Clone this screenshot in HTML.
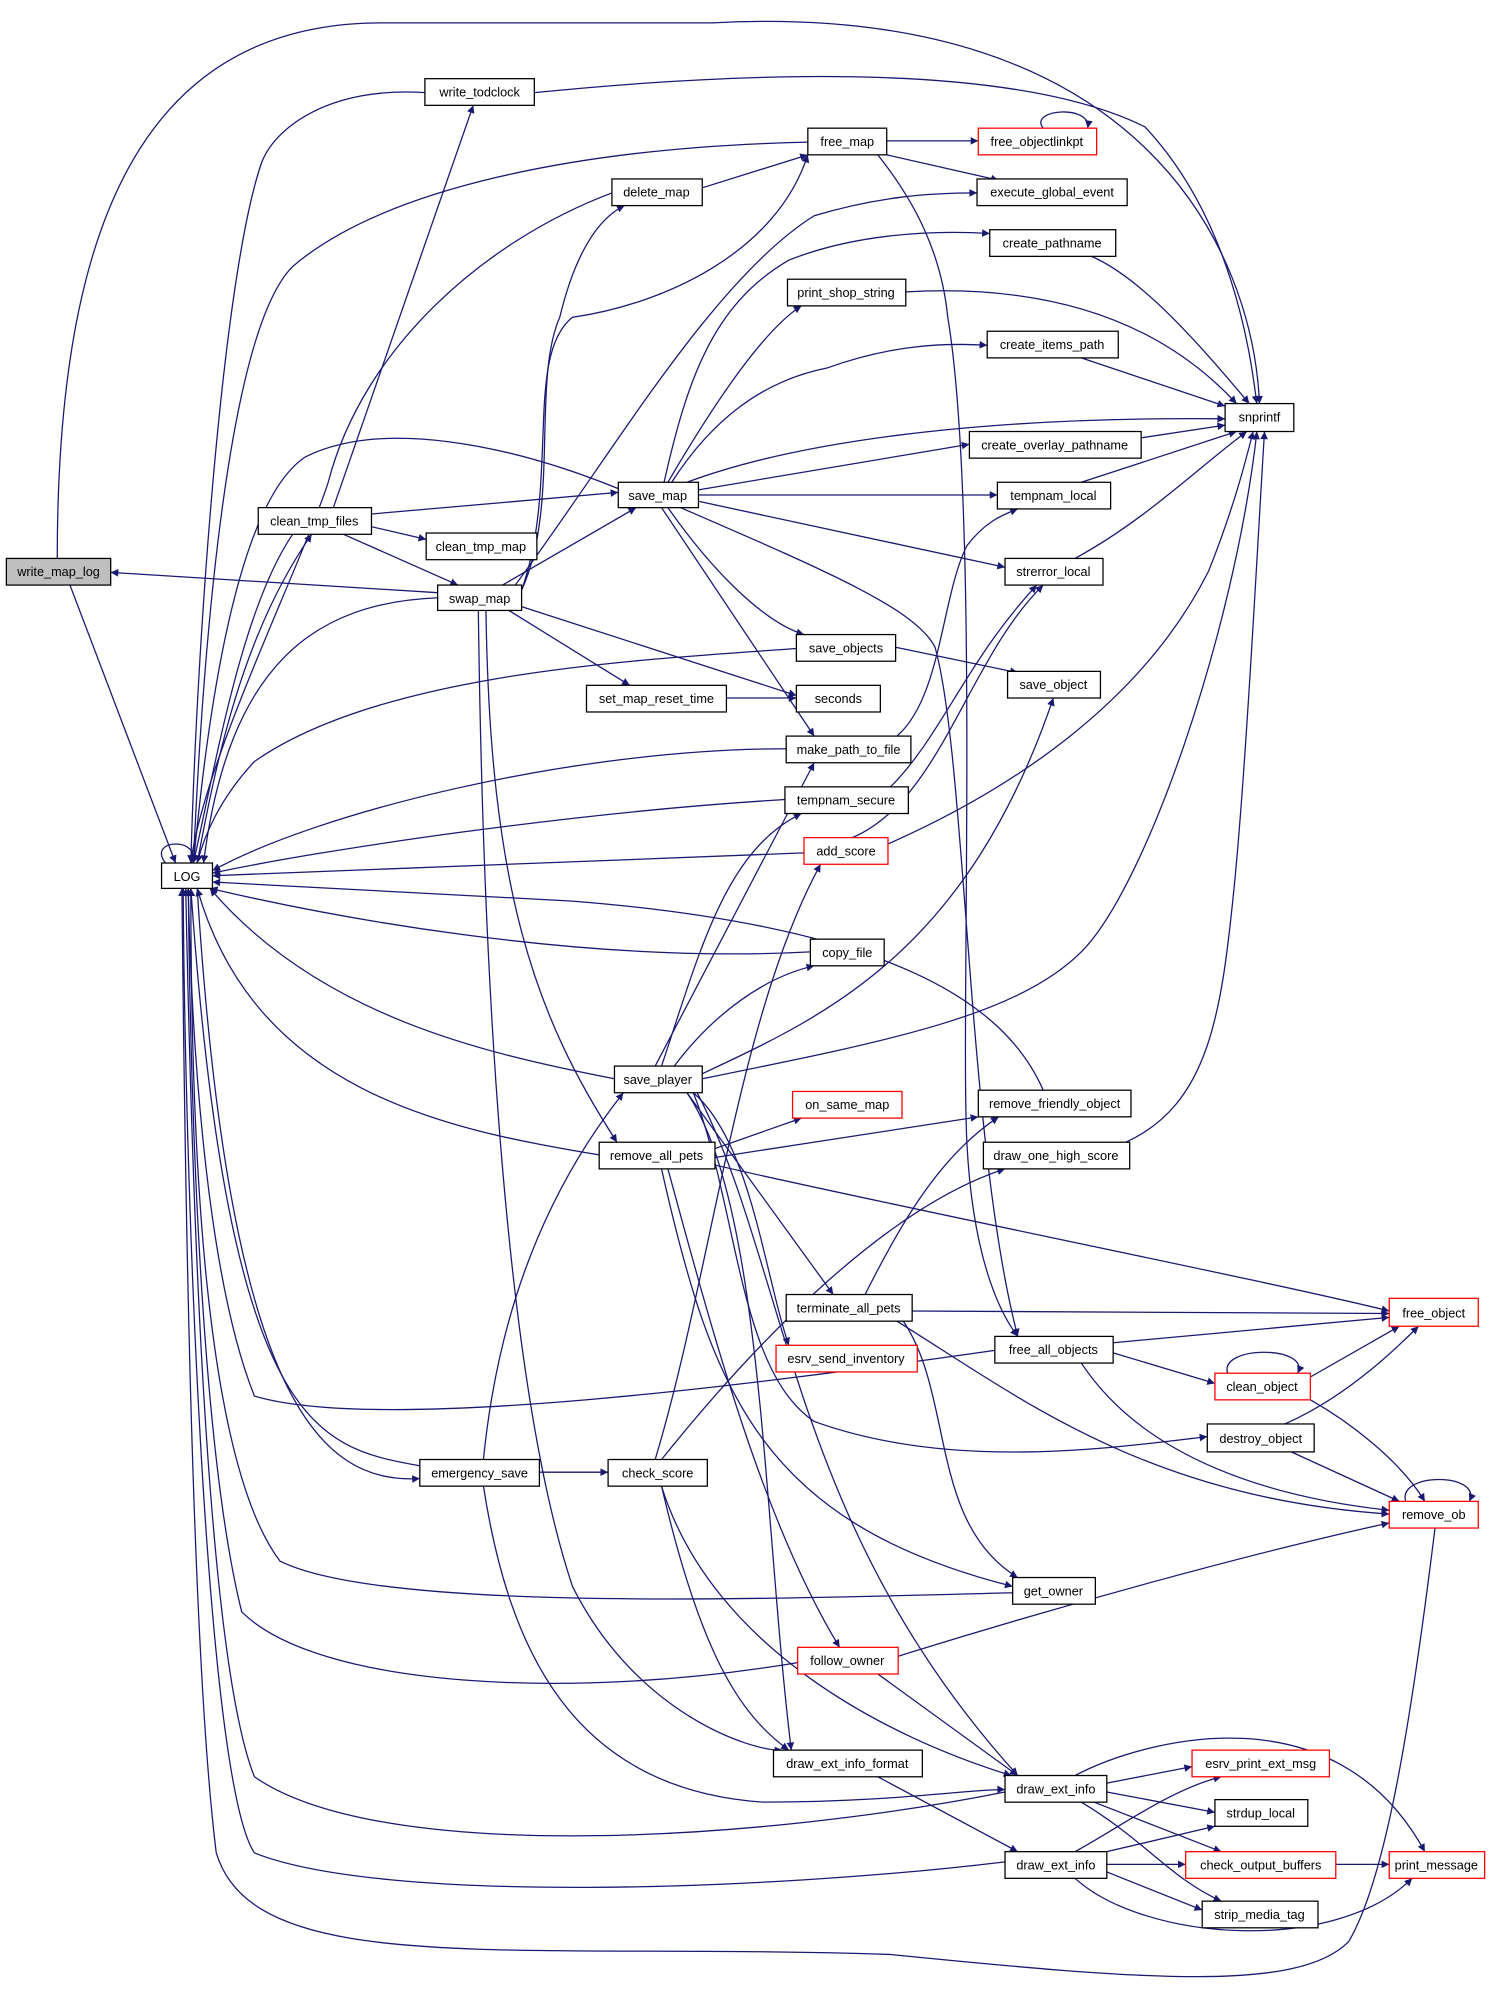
<!DOCTYPE html>
<html><head><meta charset="utf-8"><style>
html,body{margin:0;padding:0;background:#fff;}
svg{display:block;}
text{font-family:"Liberation Sans",sans-serif;font-size:10px;fill:#000;text-anchor:middle;}
.e{fill:none;stroke:#191970;stroke-width:1;}
.n{fill:#fff;stroke:#000;stroke-width:1;}
.r{fill:#fff;stroke:#ff0000;stroke-width:1;}
</style></head><body>
<svg width="1491" height="1990" viewBox="0 0 1172 1568" preserveAspectRatio="none" xmlns="http://www.w3.org/2000/svg">
<defs><marker id="a" viewBox="0 0 10 10" refX="10" refY="5" markerWidth="7" markerHeight="6" orient="auto" markerUnits="userSpaceOnUse"><path d="M0,0 L10,5 L0,10 z" fill="#191970"/></marker></defs>
<g class="e" marker-end="url(#a)">
<path d="M45,440 C45,200 100,18 300,18 L560,18 C900,0 985,200 990,318"/>
<path d="M55,461 L138,680"/>
<path d="M420,73 C600,55 800,50 900,100 C975,180 985,300 988,318"/>
<path d="M334,73 C260,68 215,100 205,130 C175,220 155,500 150,680"/>
<path d="M262,400 L372,83"/>
<path d="M697,111 L769,111"/>
<path d="M820,101 C808,86 858,82 855,101"/>
<path d="M697,122 L785,142"/>
<path d="M635,112 C450,116 300,150 230,210 C180,260 160,500 152,680"/>
<path d="M552,148 L635,122"/>
<path d="M481,152 C380,190 285,275 258,380 C235,450 160,600 150,680"/>
<path d="M410,465 C440,400 418,300 440,250 C452,200 470,172 491,162"/>
<path d="M410,465 C440,380 412,280 450,250 C520,240 610,200 635,122"/>
<path d="M405,461 C480,360 560,220 640,170 C690,155 730,152 768,152"/>
<path d="M522,380 C540,300 560,240 620,205 C670,185 730,181 778,184"/>
<path d="M525,380 C560,320 600,260 630,241"/>
<path d="M528,380 C560,330 600,300 650,290 C700,272 740,270 776,272"/>
<path d="M540,380 C620,350 760,328 963,330"/>
<path d="M549,386 L762,350"/>
<path d="M549,390 L784,390"/>
<path d="M549,395 L790,447"/>
<path d="M525,400 C560,450 600,490 632,500"/>
<path d="M520,400 L640,580"/>
<path d="M535,400 C650,450 720,480 735,510 C760,600 760,900 800,1053"/>
<path d="M486,385 C400,350 300,330 240,360 C180,400 160,600 152,680"/>
<path d="M690,122 C720,160 740,200 745,250 C770,400 755,800 760,900 C765,1000 790,1040 800,1053"/>
<path d="M858,202 C900,220 950,280 982,318"/>
<path d="M712,230 C800,225 900,240 972,318"/>
<path d="M850,282 L963,320"/>
<path d="M897,345 L963,335"/>
<path d="M850,380 L972,340"/>
<path d="M845,440 C900,410 940,370 980,340"/>
<path d="M698,665 C800,620 900,550 950,450 C970,400 980,360 985,340"/>
<path d="M552,850 C700,820 800,800 850,750 C900,700 970,500 988,340"/>
<path d="M885,900 C950,870 960,800 970,700 C980,600 990,400 994,340"/>
<path d="M292,405 L486,388"/>
<path d="M292,415 L335,425"/>
<path d="M270,421 L360,461"/>
<path d="M155,680 C170,600 190,500 245,421"/>
<path d="M230,421 C190,480 170,600 152,680"/>
<path d="M395,461 L500,400"/>
<path d="M344,467 L87,451"/>
<path d="M344,471 C250,475 180,520 160,680"/>
<path d="M400,481 L495,540"/>
<path d="M410,478 L626,548"/>
<path d="M376,481 C380,800 400,1100 450,1250 C500,1350 590,1380 615,1379"/>
<path d="M382,481 C385,700 420,800 485,900"/>
<path d="M571,550 L626,550"/>
<path d="M704,510 L800,530"/>
<path d="M626,511 C500,520 300,530 200,600 C172,630 160,660 155,680"/>
<path d="M705,580 C740,550 740,470 760,430 C775,410 790,405 800,401"/>
<path d="M618,590 C450,590 250,640 167,686"/>
<path d="M700,620 C740,580 760,520 815,461"/>
<path d="M617,630 C450,640 250,670 167,688"/>
<path d="M670,660 C740,630 760,520 820,461"/>
<path d="M632,672 L167,690"/>
<path d="M637,750 C450,760 250,720 165,700"/>
<path d="M530,840 C560,800 600,770 640,761"/>
<path d="M515,840 L640,601"/>
<path d="M520,840 C550,750 570,670 630,641"/>
<path d="M552,846 C650,800 760,750 828,550"/>
<path d="M483,850 C380,830 250,800 165,700"/>
<path d="M540,861 L655,1020"/>
<path d="M545,861 C590,900 600,1000 620,1060"/>
<path d="M540,861 C600,950 600,1200 622,1379"/>
<path d="M548,861 C620,1000 620,1200 800,1399"/>
<path d="M545,861 C580,950 580,1080 640,1120 C750,1160 880,1140 949,1132"/>
<path d="M562,905 L630,881"/>
<path d="M562,912 L769,880"/>
<path d="M562,918 C700,950 1000,1010 1092,1033"/>
<path d="M471,910 C350,890 200,860 155,700"/>
<path d="M520,921 C560,1100 600,1200 796,1250"/>
<path d="M525,921 C560,1050 600,1200 660,1298"/>
<path d="M820,859 C790,790 700,730 450,710 L167,695"/>
<path d="M680,1020 C710,960 740,910 785,880"/>
<path d="M717,1033 L1092,1035"/>
<path d="M710,1041 C750,1100 730,1200 800,1243"/>
<path d="M705,1041 C800,1100 900,1180 1092,1193"/>
<path d="M875,1058 L1092,1038"/>
<path d="M875,1066 L955,1090"/>
<path d="M850,1074 C900,1150 1000,1180 1092,1190"/>
<path d="M782,1064 C600,1090 300,1130 200,1100 C160,1000 150,800 148,700"/>
<path d="M965,1082 C958,1060 1030,1060 1020,1082"/>
<path d="M1030,1085 L1100,1045"/>
<path d="M1030,1103 C1060,1120 1100,1150 1120,1183"/>
<path d="M1010,1122 C1060,1100 1100,1060 1115,1045"/>
<path d="M1015,1144 L1100,1183"/>
<path d="M1105,1183 C1098,1160 1165,1160 1155,1183"/>
<path d="M424,1160 L478,1160"/>
<path d="M330,1155 C250,1140 180,1130 150,700"/>
<path d="M155,700 C180,1100 250,1170 330,1165"/>
<path d="M380,1150 C390,1050 420,950 490,861"/>
<path d="M380,1171 C400,1300 450,1410 600,1420 C700,1420 760,1410 790,1410"/>
<path d="M515,1150 C560,1000 580,800 645,681"/>
<path d="M520,1150 C600,1050 700,950 790,921"/>
<path d="M520,1171 C550,1300 580,1350 620,1379"/>
<path d="M520,1171 C560,1300 700,1370 795,1399"/>
<path d="M796,1255 C600,1260 300,1270 220,1230 C160,1150 150,900 150,700"/>
<path d="M706,1305 C850,1260 1000,1220 1092,1200"/>
<path d="M690,1319 L800,1399"/>
<path d="M627,1310 C450,1340 250,1330 190,1270 C160,1150 150,900 148,700"/>
<path d="M690,1400 L800,1459"/>
<path d="M870,1405 L937,1392"/>
<path d="M870,1412 L955,1428"/>
<path d="M860,1420 L960,1459"/>
<path d="M850,1420 C900,1450 920,1480 960,1498"/>
<path d="M845,1399 C900,1370 1050,1330 1120,1459"/>
<path d="M790,1412 C600,1450 300,1470 200,1400 C160,1300 150,900 146,700"/>
<path d="M845,1459 C880,1440 920,1410 960,1400"/>
<path d="M870,1469 L932,1469"/>
<path d="M870,1475 L945,1505"/>
<path d="M870,1459 L955,1439"/>
<path d="M845,1480 C900,1530 1050,1540 1110,1480"/>
<path d="M790,1467 C600,1490 300,1500 200,1460 C160,1400 145,900 144,700"/>
<path d="M1050,1469 L1092,1469"/>
<path d="M1128,1204 C1110,1350 1090,1480 1060,1530 C1020,1570 900,1560 700,1540 C400,1530 200,1560 170,1460 C150,1300 145,900 143,700"/>
<path d="M130,680 C115,660 160,660 150,680"/>
</g>
<g>
<rect x="5" y="440" width="82" height="21" fill="#bfbfbf" stroke="#000"/><text x="46" y="454">write_map_log</text>
<rect class="n" x="127" y="680" width="40" height="20"/><text x="147" y="694">LOG</text>
<rect class="n" x="334" y="62" width="86" height="21"/><text x="377" y="76">write_todclock</text>
<rect class="n" x="635" y="101" width="62" height="21"/><text x="666" y="115">free_map</text>
<rect class="r" x="769" y="101" width="93" height="21"/><text x="815" y="115">free_objectlinkpt</text>
<rect class="n" x="768" y="141" width="118" height="21"/><text x="827" y="155">execute_global_event</text>
<rect class="n" x="481" y="141" width="71" height="21"/><text x="516" y="155">delete_map</text>
<rect class="n" x="778" y="181" width="99" height="21"/><text x="827" y="195">create_pathname</text>
<rect class="n" x="619" y="220" width="93" height="21"/><text x="665" y="234">print_shop_string</text>
<rect class="n" x="776" y="261" width="103" height="21"/><text x="827" y="275">create_items_path</text>
<rect class="n" x="963" y="318" width="54" height="22"/><text x="990" y="332">snprintf</text>
<rect class="n" x="762" y="340" width="135" height="21"/><text x="829" y="354">create_overlay_pathname</text>
<rect class="n" x="486" y="380" width="63" height="20"/><text x="517" y="394">save_map</text>
<rect class="n" x="784" y="380" width="89" height="21"/><text x="828" y="394">tempnam_local</text>
<rect class="n" x="203" y="400" width="89" height="21"/><text x="247" y="414">clean_tmp_files</text>
<rect class="n" x="335" y="420" width="87" height="21"/><text x="378" y="434">clean_tmp_map</text>
<rect class="n" x="790" y="440" width="77" height="21"/><text x="828" y="454">strerror_local</text>
<rect class="n" x="344" y="461" width="66" height="20"/><text x="377" y="475">swap_map</text>
<rect class="n" x="626" y="500" width="78" height="21"/><text x="665" y="514">save_objects</text>
<rect class="n" x="792" y="529" width="73" height="21"/><text x="828" y="543">save_object</text>
<rect class="n" x="461" y="540" width="110" height="21"/><text x="516" y="554">set_map_reset_time</text>
<rect class="n" x="626" y="540" width="66" height="21"/><text x="659" y="554">seconds</text>
<rect class="n" x="618" y="580" width="98" height="21"/><text x="667" y="594">make_path_to_file</text>
<rect class="n" x="617" y="620" width="97" height="21"/><text x="665" y="634">tempnam_secure</text>
<rect class="r" x="632" y="660" width="66" height="21"/><text x="665" y="674">add_score</text>
<rect class="n" x="637" y="740" width="58" height="21"/><text x="666" y="754">copy_file</text>
<rect class="n" x="483" y="840" width="69" height="21"/><text x="517" y="854">save_player</text>
<rect class="r" x="623" y="860" width="86" height="21"/><text x="666" y="874">on_same_map</text>
<rect class="n" x="769" y="859" width="120" height="21"/><text x="829" y="873">remove_friendly_object</text>
<rect class="n" x="471" y="900" width="91" height="21"/><text x="516" y="914">remove_all_pets</text>
<rect class="n" x="773" y="900" width="115" height="21"/><text x="830" y="914">draw_one_high_score</text>
<rect class="n" x="618" y="1020" width="99" height="21"/><text x="667" y="1034">terminate_all_pets</text>
<rect class="r" x="1092" y="1023" width="70" height="22"/><text x="1127" y="1038">free_object</text>
<rect class="r" x="610" y="1060" width="111" height="21"/><text x="665" y="1074">esrv_send_inventory</text>
<rect class="n" x="782" y="1053" width="93" height="21"/><text x="828" y="1067">free_all_objects</text>
<rect class="r" x="955" y="1082" width="75" height="21"/><text x="992" y="1096">clean_object</text>
<rect class="n" x="949" y="1122" width="84" height="22"/><text x="991" y="1137">destroy_object</text>
<rect class="n" x="330" y="1150" width="94" height="21"/><text x="377" y="1164">emergency_save</text>
<rect class="n" x="478" y="1150" width="78" height="21"/><text x="517" y="1164">check_score</text>
<rect class="r" x="1092" y="1183" width="70" height="21"/><text x="1127" y="1197">remove_ob</text>
<rect class="n" x="796" y="1243" width="65" height="21"/><text x="828" y="1257">get_owner</text>
<rect class="r" x="627" y="1298" width="79" height="21"/><text x="666" y="1312">follow_owner</text>
<rect class="n" x="608" y="1379" width="117" height="21"/><text x="666" y="1393">draw_ext_info_format</text>
<rect class="r" x="937" y="1379" width="108" height="21"/><text x="991" y="1393">esrv_print_ext_msg</text>
<rect class="n" x="790" y="1399" width="80" height="21"/><text x="830" y="1413">draw_ext_info</text>
<rect class="n" x="955" y="1418" width="73" height="21"/><text x="991" y="1432">strdup_local</text>
<rect class="n" x="790" y="1459" width="80" height="21"/><text x="830" y="1473">draw_ext_info</text>
<rect class="r" x="932" y="1459" width="118" height="21"/><text x="991" y="1473">check_output_buffers</text>
<rect class="r" x="1092" y="1459" width="75" height="21"/><text x="1129" y="1473">print_message</text>
<rect class="n" x="945" y="1498" width="91" height="21"/><text x="990" y="1512">strip_media_tag</text>
</g>
</svg>
</body></html>
